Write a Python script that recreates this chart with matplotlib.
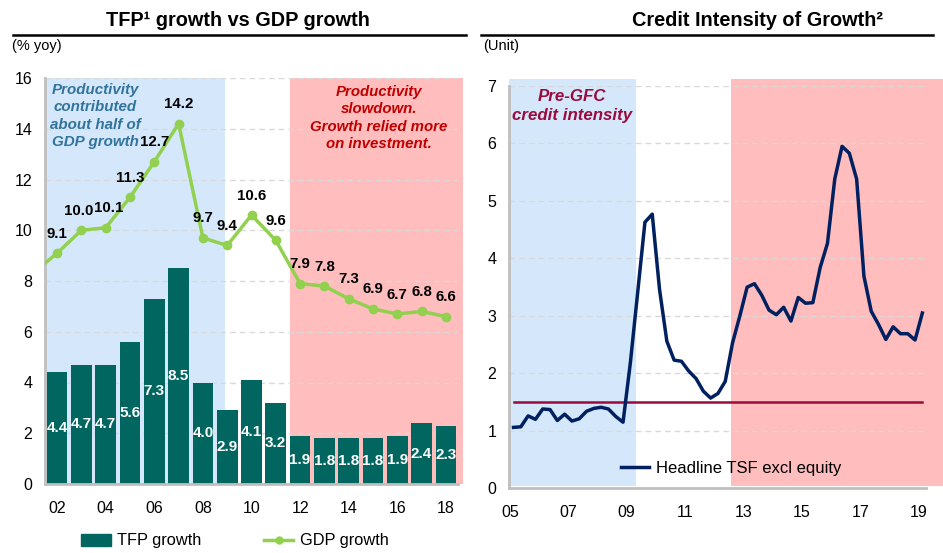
import matplotlib
matplotlib.use("Agg")
import matplotlib.pyplot as plt
from matplotlib.lines import Line2D
from matplotlib.patches import Rectangle, Patch
import numpy as np

plt.rcParams['font.family'] = ['Liberation Sans', 'DejaVu Sans']

# ---- Left panel data: TFP vs GDP growth ----
years = ['02', '03', '04', '05', '06', '07', '08', '09', '10', '11', '12',
         '13', '14', '15', '16', '17', '18']
tfp_growth = [4.4, 4.7, 4.7, 5.6, 7.3, 8.5, 4.0, 2.9, 4.1, 3.2, 1.9, 1.8,
              1.8, 1.8, 1.9, 2.4, 2.3]
gdp_growth = [9.1, 10.0, 10.1, 11.3, 12.7, 14.2, 9.7, 9.4, 10.6, 9.6, 7.9,
              7.8, 7.3, 6.9, 6.7, 6.8, 6.6]
gdp_2001 = 8.3  # lead-in point, drawn off the left edge

# ---- Right panel data: credit intensity (quarterly, 2005Q1-2019Q1) ----
tsf_intensity = [1.06, 1.07, 1.26, 1.20, 1.38, 1.37, 1.18, 1.29, 1.17, 1.21,
                 1.34, 1.39, 1.41, 1.38, 1.25, 1.15, 2.18, 3.40, 4.63, 4.77,
                 3.46, 2.56, 2.23, 2.21, 2.04, 1.91, 1.69, 1.57, 1.65, 1.86,
                 2.53, 3.00, 3.50, 3.56, 3.36, 3.10, 3.02, 3.15, 2.91, 3.32,
                 3.22, 3.23, 3.84, 4.26, 5.38, 5.95, 5.83, 5.38, 3.69, 3.08,
                 2.85, 2.59, 2.81, 2.69, 2.69, 2.58, 3.05]
pre_gfc_level = 1.51
right_ticks = ['05', '07', '09', '11', '13', '15', '17', '19']

TEAL = '#00665F'
GREEN = '#92D050'
NAVY = '#002060'
MAROON = '#9B0A3C'
BLUE_BG = '#D5E8FB'
PINK_BG = '#FFBDBD'
GRID = '#D9D9D9'
SPINE = '#BFBFBF'

W, H = 943, 553
fig = plt.figure(figsize=(W / 100, H / 100), dpi=100)


def fx(px):
    return px / W


def fy(py):
    return 1 - py / H


def style_axes(ax):
    for s in ['top', 'right']:
        ax.spines[s].set_visible(False)
    for s in ['left', 'bottom']:
        ax.spines[s].set_color(SPINE)
        ax.spines[s].set_linewidth(2)
    ax.tick_params(length=0, labelsize=11.5, colors='black')
    ax.tick_params(axis='x', pad=12)
    ax.tick_params(axis='y', pad=9)
    ax.yaxis.grid(True, color=GRID, linestyle=(0, (4, 3)), linewidth=1)
    ax.set_axisbelow(True)


# ---------------- Left panel ----------------
ax1 = fig.add_axes([fx(45), fy(484), fx(458 - 45), (484 - 78) / H])
style_axes(ax1)
x = np.arange(len(years))
ax1.set_xlim(-0.5, len(years) - 0.5)
ax1.set_ylim(0, 16)
ax1.set_yticks(range(0, 17, 2))
ax1.set_xticks(x[::2])
ax1.set_xticklabels(years[::2])

ax1.add_patch(Rectangle((-0.5, 0), 7.41, 16, color=BLUE_BG, zorder=0,
                        linewidth=0))
ax1.add_patch(Rectangle((9.58, 0), 7.12, 16, color=PINK_BG, zorder=0,
                        linewidth=0, clip_on=False))

bars = ax1.bar(x, tfp_growth, width=0.85, color=TEAL, zorder=2,
               label='TFP growth')
for xi, v in zip(x, tfp_growth):
    ax1.text(xi, v / 2, f'{v:.1f}', color='white', fontsize=11,
             fontweight='bold', ha='center', va='center', zorder=3)

gx = np.concatenate([[-1], x])
gy = [gdp_2001] + gdp_growth
ax1.plot(gx, gy, color=GREEN, linewidth=2.5, zorder=4)
ax1.plot(x, gdp_growth, 'o', color=GREEN, markersize=6, zorder=4)
# small sideways nudges keep the two crowded 2003/2004 labels apart
label_dx = {1: -2.0, 2: 2.0}
for i, (xi, v) in enumerate(zip(x, gdp_growth)):
    ax1.annotate(f'{v:.1f}', (xi, v), xytext=(label_dx.get(i, 0), 14),
                 textcoords='offset points', ha='center', va='center',
                 fontsize=10.8, fontweight='bold', color='black', zorder=5)

ax1.text(1.56, 14.5, 'Productivity\ncontributed\nabout half of\nGDP growth',
         ha='center', va='center', fontsize=10.9, fontweight='bold',
         fontstyle='italic', color='#31739C', linespacing=1.32, zorder=5)
ax1.text(13.24, 14.42, 'Productivity\nslowdown.\nGrowth relied more\non investment.',
         ha='center', va='center', fontsize=10.8, fontweight='bold',
         fontstyle='italic', color='#C00000', linespacing=1.32, zorder=5)

fig.legend(handles=[Patch(color=TEAL, label='TFP growth'),
                    Line2D([], [], color=GREEN, lw=2.5, marker='o',
                           markersize=5, label='GDP growth')],
           loc='center', bbox_to_anchor=(fx(235), fy(541)), ncol=2,
           frameon=False, fontsize=11.8, handlelength=1.8,
           handletextpad=0.4, columnspacing=3.8)

# ---------------- Right panel ----------------
ax2 = fig.add_axes([fx(509), fy(488.3), fx(926 - 509), (488.3 - 86) / H])
style_axes(ax2)
qx = 2005.125 + 0.25 * np.arange(len(tsf_intensity))
ax2.set_xlim(2004.97, 2019.25)
ax2.set_ylim(0, 7)
ax2.set_yticks(range(0, 8))
ax2.set_xticks(np.arange(2005, 2020, 2))
ax2.set_xticklabels(right_ticks)

ax2.add_patch(Rectangle((2004.97, 0.04), 2009.32 - 2004.97, 7.09,
                        color=BLUE_BG, zorder=0, linewidth=0, clip_on=False))
ax2.add_patch(Rectangle((2012.57, 0.04), 2019.85 - 2012.57, 7.09,
                        color=PINK_BG, zorder=0, linewidth=0, clip_on=False))

ax2.plot([qx[0], qx[-1]], [pre_gfc_level, pre_gfc_level], color=MAROON,
         linewidth=1.8, zorder=3)
ln, = ax2.plot(qx, tsf_intensity, color=NAVY, linewidth=2.5, zorder=4,
               label='Headline TSF excl equity')

ax2.text(2007.12, 6.65, 'Pre-GFC\ncredit intensity', ha='center', va='center',
         fontsize=12.2, fontweight='bold', fontstyle='italic', color=MAROON,
         linespacing=1.38, zorder=5)

fig.legend(handles=[ln], loc='center', bbox_to_anchor=(fx(731), fy(468)),
           frameon=False, fontsize=12, handlelength=1.7, handletextpad=0.4)

# ---------------- Titles ----------------
fig.text(fx(238), fy(20), 'TFP\u00b9 growth vs GDP growth', ha='center',
         va='center', fontsize=14.3, fontweight='bold')
fig.text(fx(757), fy(20), 'Credit Intensity of Growth\u00b2', ha='center',
         va='center', fontsize=14.3, fontweight='bold')
fig.add_artist(Line2D([fx(13), fx(466)], [fy(35), fy(35)], color='black',
                      linewidth=1.8))
fig.add_artist(Line2D([fx(481), fx(933)], [fy(35), fy(35)], color='black',
                      linewidth=1.8))
fig.text(fx(12), fy(46), '(% yoy)', ha='left', va='center', fontsize=10.5)
fig.text(fx(483), fy(46), '(Unit)', ha='left', va='center', fontsize=10.5)

fig.savefig('out.png', dpi=100)
